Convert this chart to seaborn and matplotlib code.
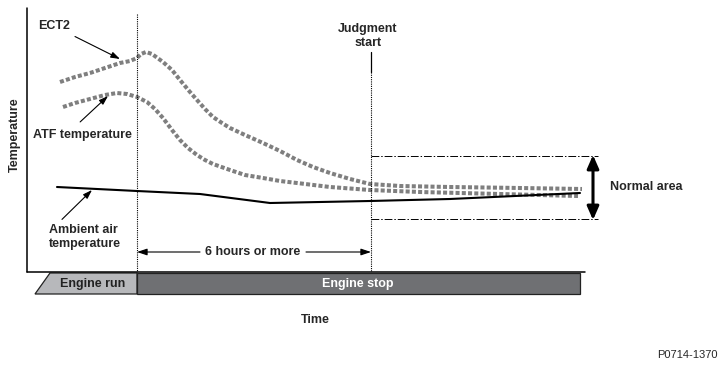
import matplotlib
matplotlib.use("Agg")
import matplotlib.pyplot as plt
import seaborn as sns

# --- Data (chart units: x = time, y = temperature, top of chart = 0) ---
ect2_time = [60, 75, 90, 105, 120, 130, 137, 141, 146, 152, 163, 172, 180, 190, 197,
             205, 213, 222, 230, 245, 263, 280, 297, 313, 330, 350, 370, 400, 450, 520, 582]
ect2_temp = [82, 77, 73, 68, 63, 61, 58, 54, 52, 54, 62, 70, 80, 92, 100,
             109, 117, 123, 128, 135, 143, 151, 160, 167, 173, 179, 184, 186, 187, 188, 189]

atf_time = [63, 75, 90, 105, 117, 127, 137, 147, 155, 163, 172, 180, 188, 197, 205,
            213, 230, 245, 263, 280, 297, 330, 370, 420, 500, 578]
atf_temp = [107, 103, 99, 95, 93, 94, 97, 102, 109, 118, 130, 140, 148, 155, 160,
            164, 170, 175, 178, 181, 183, 187, 190, 192, 194, 196]

ambient_time = [57, 137, 200, 270, 370, 450, 580]
ambient_temp = [187, 191, 194, 203, 201, 199, 193]

engine_stop_t = 137      # engine switched off
judgment_t = 371         # judgment start
normal_band = [156, 219]  # normal area limits

# --- Figure ---
sns.set_style("white")
plt.rcParams["font.family"] = ["Liberation Sans", "DejaVu Sans"]

fig = plt.figure(figsize=(7.28, 3.69), dpi=100)
ax = fig.add_axes([0, 0, 1, 1])
ax.set_xlim(0, 728)
ax.set_ylim(369, 0)
ax.axis("off")

grey = "#7f7f7f"
dots = (0, (1.0, 0.55))

sns.lineplot(x=ect2_time, y=ect2_temp, ax=ax, color=grey, lw=2.9, linestyle=dots,
             dash_capstyle="butt", estimator=None, sort=False)
sns.lineplot(x=atf_time, y=atf_temp, ax=ax, color=grey, lw=2.9, linestyle=dots,
             dash_capstyle="butt", estimator=None, sort=False)
sns.lineplot(x=ambient_time, y=ambient_temp, ax=ax, color="black", lw=1.5,
             estimator=None, sort=False)

# axes frame
ax.plot([27, 27], [8, 272], color="black", lw=1.1)
ax.plot([27, 585], [272, 272], color="black", lw=1.1)

# event markers
ax.plot([engine_stop_t, engine_stop_t], [14, 272], color="black", lw=0.8, linestyle=(0, (1, 1)))
ax.plot([judgment_t, judgment_t], [52, 72], color="black", lw=0.9)
ax.plot([judgment_t, judgment_t], [72, 272], color="black", lw=0.8, linestyle=(0, (1, 1)))

# normal area band
for yb in normal_band:
    ax.plot([judgment_t, 598], [yb, yb], color="black", lw=0.7, linestyle=(0, (8, 2, 1.5, 2)))
ax.annotate("", xy=(593, normal_band[0] - 1), xytext=(593, normal_band[1] + 1),
            arrowprops=dict(arrowstyle="<|-|>,head_length=0.8,head_width=0.35",
                            color="black", lw=2.2, shrinkA=0, shrinkB=0))
ax.text(610, 187, "Normal area", fontsize=9, fontweight="bold", va="center", ha="left")

# engine state bar
ax.fill([35, 50, engine_stop_t, engine_stop_t], [294, 273, 273, 294],
        facecolor="#b7b8bb", edgecolor="#222222", lw=0.9)
ax.fill([engine_stop_t, 580, 580, engine_stop_t], [273, 273, 294, 294],
        facecolor="#6f7073", edgecolor="#222222", lw=0.9)
ax.text(93, 284, "Engine run", fontsize=9, fontweight="bold", ha="center", va="center", color="#222222")
ax.text(358, 284, "Engine stop", fontsize=9, fontweight="bold", ha="center", va="center", color="white")

# labels
ax.text(15, 135, "Temperature", fontsize=9, fontweight="bold", rotation=90, ha="center", va="center")
ax.text(315, 320, "Time", fontsize=9, fontweight="bold", ha="center", va="center")
ax.text(368, 36, "Judgment\nstart", fontsize=9, fontweight="bold", ha="center", va="center",
        linespacing=1.25)
ax.text(718, 355, "P0714-1370", fontsize=8, ha="right", va="center")

# callouts
ax.annotate("ECT2", xy=(120, 59), xytext=(38, 26), fontsize=9, fontweight="bold",
            va="center", ha="left",
            arrowprops=dict(arrowstyle="-|>,head_length=0.6,head_width=0.2", color="black",
                            lw=0.8, shrinkA=2, shrinkB=0))
ax.annotate("ATF temperature", xy=(108, 96), xytext=(33, 135), fontsize=9, fontweight="bold",
            va="center", ha="left",
            arrowprops=dict(arrowstyle="-|>,head_length=0.6,head_width=0.2", color="black",
                            lw=0.8, shrinkA=4, shrinkB=0, relpos=(0.4, 1)))
ax.annotate("Ambient air\ntemperature", xy=(92, 190), xytext=(49, 237), fontsize=9,
            fontweight="bold", va="center", ha="left", linespacing=1.3,
            arrowprops=dict(arrowstyle="-|>,head_length=0.6,head_width=0.2", color="black",
                            lw=0.8, shrinkA=1, shrinkB=0, relpos=(0.12, 1)))

# "6 hours or more" span
ax.text(253, 252, "6 hours or more", fontsize=9, fontweight="bold", ha="center", va="center")
for x0, x1 in [(200, engine_stop_t), (306, judgment_t)]:
    ax.annotate("", xy=(x1, 252), xytext=(x0, 252),
                arrowprops=dict(arrowstyle="-|>,head_length=0.6,head_width=0.2", color="black",
                                lw=0.8, shrinkA=0, shrinkB=0))

fig.savefig("out.png", dpi=100, facecolor="white")
